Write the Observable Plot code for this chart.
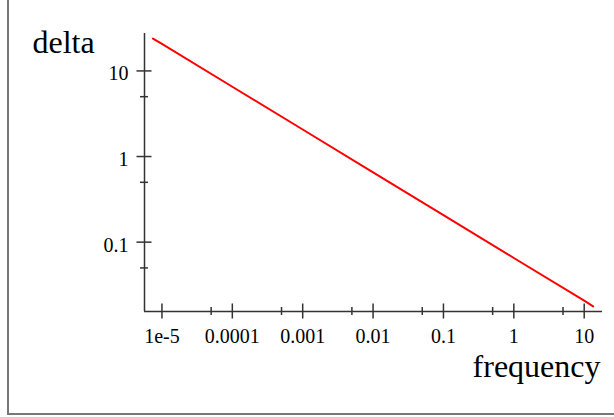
<!DOCTYPE html>
<html><head><meta charset="utf-8">
<script src="https://cdn.jsdelivr.net/npm/d3@7"></script>
<script src="https://cdn.jsdelivr.net/npm/@observablehq/plot@0.6"></script>
<style>
html,body{margin:0;padding:0;background:#fff;overflow:hidden;}
#wrap{position:relative;width:614px;height:417px;overflow:hidden;}
#frame{position:absolute;left:7px;top:-10px;width:700px;height:423px;border-left:2px solid #777;border-bottom:2px solid #777;pointer-events:none;}
svg{display:block;}
</style></head><body><div id="wrap"><div id="chart"></div><div id="frame"></div></div>
<script>
// read values (log-log straight line)
const frequency = [7.45e-6, 1e-5, 1e-4, 1e-3, 0.01, 0.1, 1, 10, 13.4];
const delta     = [23.9, 20.7, 6.53, 2.07, 0.653, 0.207, 0.0653, 0.0207, 0.0178];

const xMajor = [1e-5, 1e-4, 1e-3, 0.01, 0.1, 1, 10];
const xLabels = ["1e-5", "0.0001", "0.001", "0.01", "0.1", "1", "10"];
const xMinor = [5e-5, 5e-4, 5e-3, 0.05, 0.5, 5];
const yMajor = [10, 1, 0.1];
const yLabels = ["10", "1", "0.1"];
const yMinor = [5, 0.5, 0.05];
const xTitle = "frequency";
const yTitle = "delta";

const data = frequency.map((f, i) => ({frequency: f, delta: delta[i]}));
const xDomain = [Math.pow(10, -5.248), Math.pow(10, 1.26)];
const yDomain = [Math.pow(10, -1.81), Math.pow(10, 1.437)];
const axisColor = "#333";

const chart = Plot.plot({
  width: 614, height: 417,
  marginLeft: 144, marginRight: 12, marginTop: 33, marginBottom: 106,
  x: {type: "log", domain: xDomain, label: null},
  y: {type: "log", domain: yDomain, label: null},
  style: {fontFamily: "'Liberation Serif', 'Times New Roman', serif", fontSize: "20px", background: "transparent", color: "#000"},
  marks: [
    Plot.ruleY([yDomain[0]], {stroke: axisColor, strokeWidth: 1.5}),
    Plot.ruleX([xDomain[0]], {stroke: axisColor, strokeWidth: 1.5}),
    // x ticks (crossing the axis)
    Plot.axisX(xMajor, {tickSize: 15, dy: -7.5, tickFormat: () => "", label: null, stroke: axisColor, strokeWidth: 1.5}),
    Plot.axisX(xMinor, {tickSize: 8, dy: -4, tickFormat: () => "", label: null, stroke: axisColor, strokeWidth: 1.5}),
    Plot.axisX(xMajor, {tickSize: 0, tickPadding: 17, tickFormat: d => xLabels[xMajor.indexOf(d)], label: null, fill: "#000", fontSize: 20}),
    // y ticks
    Plot.axisY(yMajor, {tickSize: 15, dx: 7.5, tickFormat: () => "", label: null, stroke: axisColor, strokeWidth: 1.5}),
    Plot.axisY(yMinor, {tickSize: 8, dx: 4, tickFormat: () => "", label: null, stroke: axisColor, strokeWidth: 1.5}),
    Plot.axisY(yMajor, {tickSize: 0, tickPadding: 16, dy: 3, tickFormat: d => yLabels[yMajor.indexOf(d)], label: null, fill: "#000", fontSize: 20}),
    // titles
    Plot.text([yTitle], {frameAnchor: "top-left", textAnchor: "start", lineAnchor: "bottom", dx: -112, dy: 19, fontSize: 32, fill: "#000"}),
    Plot.text([xTitle], {frameAnchor: "bottom-right", textAnchor: "end", lineAnchor: "bottom", dx: -2, dy: 65, fontSize: 32, fill: "#000"}),
    // line
    Plot.line(data, {x: "frequency", y: "delta", stroke: "#ff0000", strokeWidth: 2})
  ]
});
document.getElementById("chart").appendChild(chart);
</script>
</body></html>
